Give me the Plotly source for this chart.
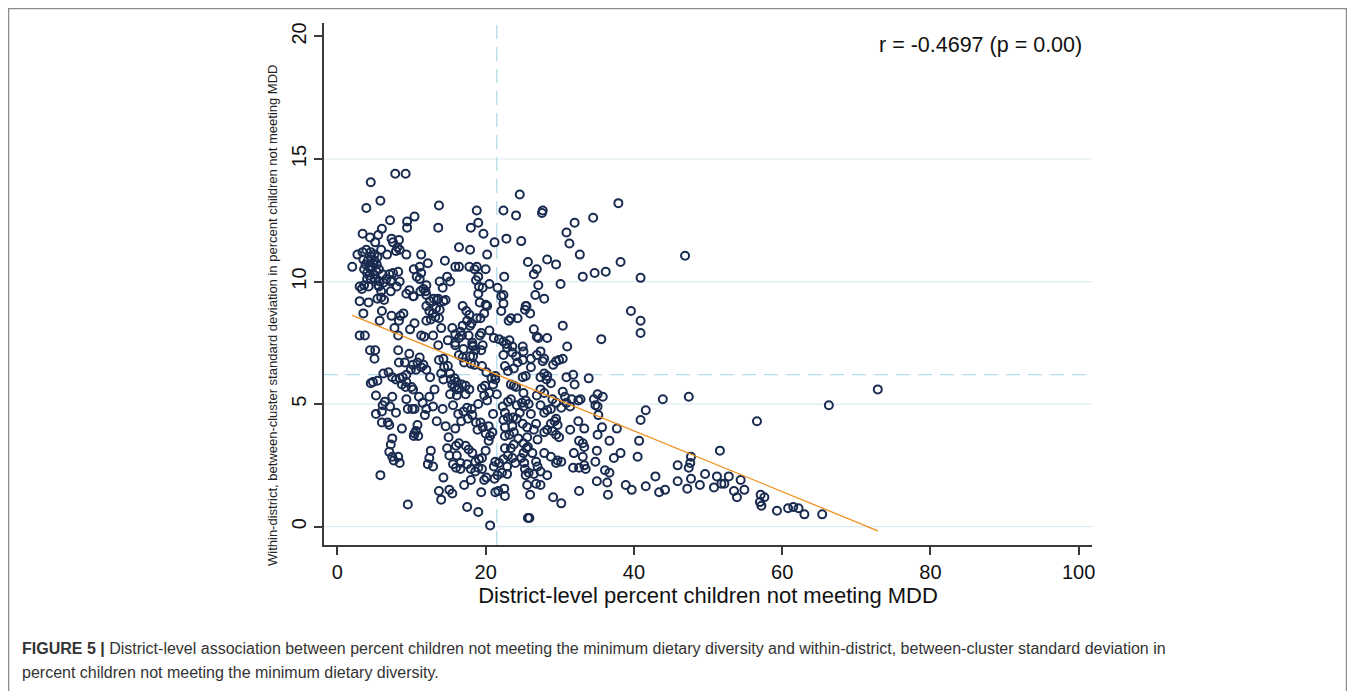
import plotly.graph_objects as go

# ---------------- data ----------------
# (district-level % children not meeting MDD, within-district SD)
pts_left_upper = [
    (2.0,10.6),(3.4,11.95),(3.9,13.0),(4.5,14.05),(5.8,13.3),(4.4,11.8),(5.5,11.9),(5.1,11.6),(6.0,12.15),
    (2.7,11.1),(3.4,11.2),(3.9,11.3),(4.5,11.2),(5.0,11.1),(5.4,11.0),(5.9,11.3),(6.7,11.1),(3.5,10.9),
    (4.1,10.85),(4.6,11.0),(5.0,10.85),(4.3,10.6),(4.7,10.6),(5.3,10.7),(3.6,10.5),(4.0,10.35),(4.5,10.5),
    (4.9,10.3),(5.6,10.5),(4.0,10.1),(4.5,10.1),(5.1,10.1),(5.7,10.0),(6.1,10.3),(5.5,9.85),(3.0,9.8),
    (3.3,9.7),(3.6,9.85),(4.2,9.8),(5.6,9.8),(6.2,9.95),(5.9,9.6),(7.2,9.6),(7.2,10.0),(8.0,9.8),(3.0,9.2),
    (4.2,9.15),(5.4,9.3),(5.9,9.35),(6.3,9.25),(3.5,8.7),(6.0,8.8),(5.7,8.4),(3.0,7.8),(3.7,7.8),(7.3,11.75),
    (7.1,12.5),(8.3,11.7),(7.5,11.6),(8.1,11.4),(8.4,11.3),(7.9,11.25),(9.3,11.1),(7.0,10.3),(7.5,10.35),
    (8.2,10.4),(6.6,10.1),(7.3,10.05),(8.4,10.0),(9.7,9.65),(9.3,9.5),(10.2,9.4),(7.3,8.6),(8.5,8.6),
    (8.9,8.7),(8.3,8.4),(7.7,8.1),(8.2,7.8),(9.8,8.05),(10.4,8.3),(7.8,14.4),(9.2,14.4),(9.4,12.45),
    (9.4,12.2),(10.4,12.65),(4.8,10.75),(3.8,10.7),(5.2,10.45),(4.3,10.25),
]
pts_left_lower = [
    (4.4,7.2),(5.1,7.2),(5.0,6.85),(8.2,7.2),(9.7,7.05),(4.8,5.9),(5.4,5.95),(4.5,5.85),(6.2,6.25),
    (6.9,6.3),(7.4,6.1),(7.9,6.0),(8.4,6.05),(8.7,5.8),(9.2,5.7),(9.3,5.9),(10.0,5.7),(10.2,5.6),(8.3,6.7),
    (9.1,6.7),(10.2,6.6),(10.8,6.7),(11.1,6.9),(11.3,6.5),(12.0,6.4),(10.6,6.4),(9.9,6.4),(9.3,6.2),
    (8.8,6.1),(5.2,5.35),(6.1,4.95),(6.4,5.1),(7.4,5.3),(7.1,4.9),(7.9,4.65),(6.0,4.7),(5.2,4.6),(9.3,5.2),
    (9.5,4.8),(10.1,4.8),(10.4,4.8),(11.8,4.55),(11.5,5.05),(12.0,4.8),(12.9,4.9),(14.2,4.8),(13.1,5.6),
    (6.0,4.25),(6.8,4.25),(7.0,4.15),(8.7,4.0),(10.8,4.15),(10.6,3.9),(10.4,3.8),(10.3,3.7),(10.9,3.7),
    (7.4,3.6),(7.2,3.35),(7.0,3.05),(7.4,2.85),(7.6,2.7),(8.2,2.85),(8.4,2.6),(5.8,2.1),(9.5,0.9),
    (11.6,6.6),(12.5,6.1),(11.0,5.3),(12.4,5.3),
]
pts_mid_upper = [
    (11.3,11.1),(12.2,10.75),(14.5,10.85),(15.9,10.6),(16.4,10.6),(16.4,11.4),(17.9,11.3),(20.2,11.1),
    (13.7,13.1),(13.6,12.2),(18.8,12.9),(19.0,12.4),(18.0,12.2),(19.7,11.95),(21.2,11.6),(22.4,12.9),
    (24.6,13.55),(24.1,12.7),(22.8,11.75),(24.8,11.65),(25.7,10.8),(22.5,10.2),
    (17.8,10.6),(18.5,10.5),(18.8,10.6),(20.0,10.5),(10.3,10.5),(11.1,10.6),(10.7,10.2),(11.3,10.35),
    (11.1,10.1),(10.3,9.4),(11.2,9.6),(11.6,9.7),(12.0,9.85),(12.0,9.45),(13.8,10.0),(14.2,9.75),
    (14.8,10.2),(15.2,10.0),(18.7,10.05),(19.1,9.8),(19.6,9.75),(20.5,9.9),(19.0,10.2),(19.0,9.5),
    (21.6,9.75),(22.1,9.4),(22.4,9.45),(25.4,9.0),(11.9,9.6),(12.5,9.2),(13.0,9.3),(13.4,9.25),(13.6,9.3),
    (14.3,9.2),(14.6,9.25),(12.0,9.0),(12.4,8.8),(12.9,8.7),(13.3,8.9),(13.8,8.85),(13.2,8.55),(13.7,8.5),
    (12.6,8.45),(12.0,8.4),(14.0,8.1),(15.5,8.1),(16.9,9.0),(17.4,8.8),(17.8,8.65),(17.5,8.4),(17.9,8.2),
    (16.9,8.2),(16.6,7.95),(19.2,9.15),(20.0,9.05),(20.2,9.0),(19.8,8.7),(19.3,8.5),(18.8,8.5),(18.1,8.3),
    (22.4,9.1),(22.1,8.8),(23.1,8.4),(23.4,8.5),(24.3,8.5),(25.3,8.85),(11.3,7.8),(11.7,7.75),(12.9,7.8),
    (15.9,7.85),(16.4,7.7),(16.8,7.8),(17.7,7.8),(15.9,7.5),(18.2,7.5),(18.3,7.35),(19.2,7.8),(19.4,7.9),
    (21.1,7.7),(21.8,7.65),(22.4,7.55),(22.8,7.45),(23.2,7.6),(23.6,7.35),(25.0,7.35),
    (14.9,7.6),(13.6,7.4),(20.5,8.0),(17.0,7.25),
]
pts_mid_lower = [
    (13.7,6.8),(14.3,6.85),(14.4,6.5),(14.9,6.55),(15.2,6.25),(14.0,6.25),(14.3,6.0),(15.3,6.0),(15.8,6.05),
    (15.8,5.7),(15.5,5.8),(16.1,5.9),(16.4,5.65),(16.1,5.6),(16.8,5.8),(17.3,5.75),(15.9,7.4),(16.4,7.0),
    (16.9,6.9),(17.1,6.7),(17.9,6.95),(18.0,6.65),(18.3,6.95),(18.5,6.6),(18.6,7.2),(18.2,7.4),(19.4,7.2),
    (19.6,7.4),(19.5,6.55),(20.1,6.3),(20.8,6.05),(21.0,5.8),(21.3,6.0),(21.3,6.15),(19.9,5.75),(19.5,5.65),
    (19.8,5.35),(20.5,5.45),(21.5,5.4),(20.2,5.15),(22.4,7.0),(22.9,7.3),(23.6,7.1),(24.1,6.95),(24.3,6.7),
    (25.0,6.8),(25.1,7.15),(22.6,6.55),(23.0,6.35),(23.8,6.45),(25.0,6.1),(23.4,5.8),(23.8,5.75),(24.1,5.7),
    (15.2,5.4),(16.1,5.35),(17.3,5.4),(17.8,5.6),
    (15.0,3.65),(16.0,3.3),(16.4,3.4),(17.3,3.3),(17.7,3.15),(16.1,2.9),(16.6,2.6),(17.5,2.55),(18.2,3.0),
    (18.6,2.65),(19.1,2.75),(19.5,2.8),(18.0,2.35),(19.0,2.4),(18.6,2.25),(19.5,2.35),(12.6,3.1),(12.4,2.8),
    (12.2,2.55),(12.9,2.45),(14.8,3.2),(15.1,2.9),(15.6,2.55),(16.0,2.4),(16.6,2.35),(14.3,2.0),(13.7,1.45),
    (14.0,1.1),(15.1,1.5),(15.5,1.35),(17.1,1.7),(17.0,4.7),(17.5,4.85),(18.1,4.8),(18.2,4.55),(17.6,4.4),
    (16.7,4.3),(18.7,4.25),(19.3,4.25),(18.9,3.95),(19.6,4.05),(20.0,3.8),(20.6,3.7),(20.9,3.85),(20.4,3.5),
    (20.4,4.1),(17.5,0.8),(19.0,0.6),(18.0,1.9),(19.4,1.4),(19.8,1.9),(20.1,2.0),(20.6,0.05),(21.3,1.4),
    (21.7,1.45),(22.5,1.55),(22.6,1.25),(21.2,1.95),(21.6,2.1),(22.2,2.2),(22.9,2.15),(21.1,2.45),(21.3,2.65),
    (21.8,2.6),(22.4,2.75),(22.9,2.45),
    (15.6,4.95),(16.3,4.6),(19.0,5.0),(21.0,4.6),(20.0,3.1),(13.4,4.3),(14.6,4.1),(15.9,4.0),
]
pts_mid_right = [
    (22.6,3.2),(23.4,3.2),(23.8,3.35),(23.0,2.9),(23.6,2.8),(22.6,3.7),(23.2,3.75),(23.8,3.85),(23.6,4.1),
    (22.6,4.05),(22.4,4.35),(23.0,4.45),(23.7,4.45),(22.6,4.65),(22.3,4.9),(23.0,5.1),(23.4,5.2),(24.2,4.95),
    (24.9,5.05),(25.4,5.15),(25.1,4.9),(24.6,4.65),(24.2,4.4),(25.0,4.2),(25.6,4.05),(25.6,3.65),(25.1,3.4),
    (25.5,3.2),(25.1,3.0),(25.2,2.6),(25.3,2.35),(25.4,2.1),(25.6,1.7),(24.8,2.8),(24.0,2.6),(25.7,0.35),
    (26.1,6.85),(26.9,7.0),(27.4,7.15),(27.7,6.75),(27.9,6.85),(29.1,6.6),(29.5,6.75),(29.9,6.8),(30.4,6.85),
    (26.1,6.5),(25.4,6.15),(27.4,6.1),(27.9,6.25),(28.3,6.15),(28.8,5.85),(28.2,6.0),(31.8,6.2),(30.9,6.1),
    (32.0,5.8),(33.9,6.05),(25.1,5.45),(25.8,5.0),(26.1,4.6),(26.8,4.2),(26.5,3.95),(27.0,3.55),(27.9,3.0),
    (26.8,2.65),(27.0,2.45),(27.4,2.25),(25.7,3.25),(25.8,2.2),(26.5,2.15),(26.8,1.75),(27.4,1.7),(28.8,2.85),
    (29.5,2.6),(29.7,2.7),(30.2,2.65),(27.9,3.85),(28.3,3.95),(29.0,3.9),(29.5,3.75),(29.9,3.65),(28.8,4.2),
    (29.3,4.3),(29.7,4.15),(29.5,4.4),(27.9,4.65),(28.3,4.75),(28.8,4.8),(27.4,4.95),(26.9,5.35),(27.9,5.45),
    (29.0,5.2),(29.5,5.05),(27.4,5.6),
    (26.3,3.0),(24.4,3.6),(28.3,2.1),(26.0,1.3),
]
pts_right = [
    (35.1,5.4),(35.8,5.3),(34.6,5.2),(34.8,4.95),(35.1,4.9),(32.8,5.2),(32.5,5.15),(31.6,5.2),(30.4,5.5),
    (30.7,5.3),(30.9,5.05),(31.4,4.9),(30.2,4.85),(43.9,5.2),(47.4,5.3),(41.6,4.75),(40.9,4.35),(35.2,4.55),
    (32.5,4.3),(33.3,4.0),(31.4,3.95),(35.7,4.05),(35.1,3.75),(37.7,4.0),(36.7,3.5),(33.1,3.4),(33.3,3.25),
    (32.6,3.5),(40.7,3.5),(40.5,2.85),(38.2,3.0),(37.3,2.8),(31.9,3.0),(33.1,2.85),(35.0,3.1),(34.8,2.65),
    (36.1,2.3),(36.7,2.2),(31.8,2.4),(32.6,2.4),(33.3,2.5),(33.5,2.35),(47.7,2.85),(47.6,2.6),(47.4,2.4),
    (45.9,2.5),(51.6,3.1),(42.9,2.05),(45.9,1.85),(47.7,1.95),(49.6,2.15),(51.2,2.05),(48.9,1.7),(47.2,1.55),
    (50.8,1.6),(51.8,1.75),(38.9,1.7),(39.7,1.5),(41.6,1.65),(43.4,1.4),(44.2,1.5),(35.0,1.85),(36.4,1.8),
    (36.5,1.3),(32.6,1.45),(29.1,1.2),(30.2,0.95),(25.9,0.35),
    (37.9,13.2),(34.5,12.6),(32.0,12.4),(30.9,12.0),(31.3,11.55),(27.7,12.9),(27.6,12.8),(32.7,11.1),
    (46.9,11.05),(28.3,10.9),(29.5,10.7),(26.9,10.5),(26.5,10.3),(38.2,10.8),(33.1,10.2),(34.7,10.35),
    (36.2,10.4),(40.9,10.15),(27.1,9.85),(30.1,9.9),(26.7,9.45),(27.9,9.3),(25.5,9.0),(26.0,8.7),(39.6,8.8),
    (40.9,8.4),(40.9,7.9),(30.4,8.2),(26.5,8.05),(26.9,7.75),(27.1,7.7),(28.3,7.7),(35.6,7.65),(31.0,7.35),
    (52.2,1.75),(52.8,2.05),(53.5,1.45),(53.9,1.2),(54.4,1.9),(54.9,1.5),(56.6,4.3),(57.0,1.0),(57.1,1.3),
    (57.2,0.85),(57.6,1.2),(59.3,0.65),(60.8,0.75),(61.5,0.8),(62.2,0.75),(63.0,0.5),(65.4,0.5),(66.3,4.95),
    (72.9,5.6),
]

# reference lines and fit
mean_x = 21.5          # vertical dashed line
mean_y = 6.2           # horizontal dashed line
fit_x = [2.0, 72.9]
fit_y = [8.62, -0.17]
corr_text = "r = -0.4697 (p = 0.00)"
x_ticks = [0, 20, 40, 60, 80, 100]
y_ticks = [0, 5, 10, 15, 20]
grid_y = [0, 5, 10, 15]

x_title = "District-level percent children not meeting MDD"
y_title = "Within-district, between-cluster standard deviation in percent children not meeting MDD"
caption_bold = "FIGURE 5 |"
caption_line1 = (" District-level association between percent children not meeting the minimum dietary diversity "
                 "and within-district, between-cluster standard deviation in")
caption_line2 = "percent children not meeting the minimum dietary diversity."

# ---------------- figure ----------------
all_pts = pts_left_upper + pts_left_lower + pts_mid_upper + pts_mid_lower + pts_mid_right + pts_right
xs = [p[0] for p in all_pts]
ys = [p[1] for p in all_pts]

OFF = 8                     # the page body adds an 8px margin; positions below are page pixels
W, H = 1355 - OFF, 691 - OFF
L, R, T, B = 324, 1092, 23, 545  # plot area in page pixels

def px_x(p):
    return (p - L) / (R - L)

def px_y(p):
    return (B - p) / (B - T)

FONT = "Liberation Sans, Arial, Helvetica, sans-serif"
grid_col = "#dcebf1"
dash_col = "#b3dbe9"

fig = go.Figure()

fig.add_trace(go.Scatter(
    x=xs, y=ys, mode="markers",
    marker=dict(symbol="circle-open", size=8, color="#1a2b50", line=dict(width=2)),
    showlegend=False, hoverinfo="x+y",
))
fig.add_trace(go.Scatter(
    x=fit_x, y=fit_y, mode="lines",
    line=dict(color="#f0901e", width=1.3), showlegend=False,
))

shapes = []
for gy in grid_y:
    shapes.append(dict(type="line", xref="paper", yref="y", x0=0, x1=1, y0=gy, y1=gy,
                       line=dict(color=grid_col, width=1.2), layer="below"))
shapes.append(dict(type="line", xref="x", yref="paper", x0=mean_x, x1=mean_x, y0=0, y1=1,
                   line=dict(color=dash_col, width=1.3, dash="14px,8px"), layer="below"))
shapes.append(dict(type="line", xref="paper", yref="y", x0=0, x1=1, y0=mean_y, y1=mean_y,
                   line=dict(color=dash_col, width=1.3, dash="14px,8px"), layer="below"))
# outer frame
shapes.append(dict(type="rect", xref="paper", yref="paper",
                   x0=px_x(8.5), x1=px_x(1346.5), y0=px_y(705), y1=px_y(8.5),
                   line=dict(color="#8c8c8c", width=1.5), fillcolor="rgba(0,0,0,0)", layer="below"))

annotations = [
    dict(text=corr_text, xref="paper", yref="paper", x=px_x(1084), y=px_y(45),
         xanchor="right", yanchor="middle", showarrow=False,
         font=dict(family=FONT, size=21.5, color="#111")),
    dict(text=y_title, xref="paper", yref="paper", x=px_x(272), y=px_y(316),
         xanchor="center", yanchor="middle", textangle=-90, showarrow=False,
         font=dict(family=FONT, size=13, color="#222")),
    dict(text="<b>" + caption_bold + "</b>" + caption_line1, xref="paper", yref="paper",
         x=px_x(20), y=px_y(648), xanchor="left", yanchor="middle", align="left", showarrow=False,
         font=dict(family=FONT, size=16, color="#333")),
    dict(text=caption_line2, xref="paper", yref="paper",
         x=px_x(20), y=px_y(672), xanchor="left", yanchor="middle", align="left", showarrow=False,
         font=dict(family=FONT, size=16, color="#333")),
]

fig.update_layout(
    width=W, height=H,
    margin=dict(l=L - OFF, r=(W + OFF) - R, t=T - OFF, b=(H + OFF) - B, pad=0),
    paper_bgcolor="white", plot_bgcolor="white",
    shapes=shapes, annotations=annotations,
    xaxis=dict(range=[-1.81, 101.8], tickvals=x_ticks, showgrid=False, zeroline=False,
               showline=True, linecolor="#3a3a3a", linewidth=1.8,
               ticks="outside", ticklen=8, tickwidth=1.5, tickcolor="#3a3a3a",
               tickfont=dict(family=FONT, size=20, color="#111"),
               title=dict(text=x_title, font=dict(family=FONT, size=22, color="#111"), standoff=4)),
    yaxis=dict(range=[-0.75, 20.55], tickvals=y_ticks, showgrid=False, zeroline=False,
               showline=True, linecolor="#3a3a3a", linewidth=1.8,
               ticks="outside", ticklen=8, tickwidth=1.5, tickcolor="#3a3a3a",
               tickangle=-90,
               tickfont=dict(family=FONT, size=20, color="#111")),
)

fig.write_html("out.html")
